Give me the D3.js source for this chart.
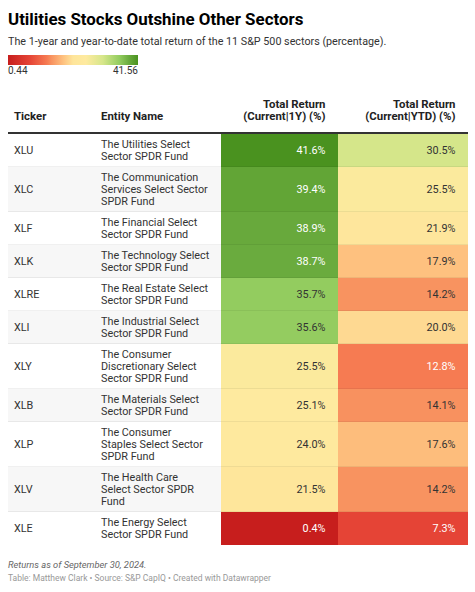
<!DOCTYPE html>
<html><head><meta charset="utf-8">
<script src="https://cdn.jsdelivr.net/npm/d3@7"></script>
<style>body{margin:0;background:#fff;font-family:Roboto,sans-serif}</style>
</head><body>
<svg id="c" width="475" height="592"></svg>
<script>
const title = "Utilities Stocks Outshine Other Sectors";
const subtitle = "The 1-year and year-to-date total return of the 11 S&P 500 sectors (percentage).";
const headers = ["Ticker", "Entity Name", "Total Return\n(Current|1Y) (%)", "Total Return\n(Current|YTD) (%)"];
const tickers = ["XLU","XLC","XLF","XLK","XLRE","XLI","XLY","XLB","XLP","XLV","XLE"];
const names = [
  "The Utilities Select\nSector SPDR Fund",
  "The Communication\nServices Select Sector\nSPDR Fund",
  "The Financial Select\nSector SPDR Fund",
  "The Technology Select\nSector SPDR Fund",
  "The Real Estate Select\nSector SPDR Fund",
  "The Industrial Select\nSector SPDR Fund",
  "The Consumer\nDiscretionary Select\nSector SPDR Fund",
  "The Materials Select\nSector SPDR Fund",
  "The Consumer\nStaples Select Sector\nSPDR Fund",
  "The Health Care\nSelect Sector SPDR\nFund",
  "The Energy Select\nSector SPDR Fund"
];
const ret1Y  = [41.6, 39.4, 38.9, 38.7, 35.7, 35.6, 25.5, 25.1, 24.0, 21.5, 0.4];
const retYTD = [30.5, 25.5, 21.9, 17.9, 14.2, 20.0, 12.8, 14.1, 17.6, 14.2, 7.3];
const legendTicks = [0.44, 41.56];
const notes = "Returns as of September 30, 2024.";
const credits = "Table: Matthew Clark \u2022 Source: S&P CapIQ \u2022 Created with Datawrapper";
const gradientColors = ["#c71e1d","#e54436","#f67b52","#f89360","#fec17f","#fee59b","#feea9f","#d6e68a","#93cc5f","#6aab3e","#4a921f"];
const gradientPos    = [0, 0.167, 0.3, 0.335, 0.425, 0.5, 0.6, 0.73, 0.857, 0.93, 1];

const svg = d3.select("#c");
const L = 8, R = 468;

svg.append("text").attr("x", L).attr("y", 25).text(title)
  .attr("font-size", 16.9).attr("font-weight", 700).attr("fill", "#000");
svg.append("text").attr("x", L).attr("y", 45).text(subtitle)
  .attr("font-size", 10.75).attr("fill", "#333");

// color scale
const posScale = d3.scaleLinear().domain(legendTicks).range([0, 1]);
const color = d3.scaleLinear()
  .domain(gradientPos.map(p => posScale.invert(p)))
  .range(gradientColors).interpolate(d3.interpolateRgb).clamp(true);

// legend
const defs = svg.append("defs");
const grad = defs.append("linearGradient").attr("id", "lg");
gradientPos.forEach((p, i) => grad.append("stop").attr("offset", p).attr("stop-color", gradientColors[i]));
const legX = d3.scaleLinear().domain(legendTicks).range([L, 138]);
svg.append("rect").attr("x", legX(legendTicks[0])).attr("y", 55)
  .attr("width", legX(legendTicks[1]) - legX(legendTicks[0])).attr("height", 10).attr("fill", "url(#lg)");
svg.selectAll(".lt").data(legendTicks).enter().append("text")
  .attr("x", d => legX(d)).attr("y", 74)
  .attr("text-anchor", (d, i) => i === 0 ? "start" : "end")
  .attr("font-size", 10).attr("fill", "#333").text(d => d);

// table geometry
const colX = [L, 95, 221, 338, R];
const lineH = 12, padV = 9, topY = 134;
const rows = tickers.map((t, i) => ({ t, name: names[i].split("\n"), v1: ret1Y[i], v2: retYTD[i] }));
let yy = topY;
rows.forEach(r => { r.n = r.name.length; r.y0 = yy; r.h = r.n * lineH + padV; yy += r.h; });
const capHalf = 3.9;

// header
const hdr = svg.append("g").attr("font-size", 11.4).attr("font-weight", 700).attr("fill", "#222");
headers.forEach((h, i) => {
  const lines = h.split("\n");
  const xx = i < 2 ? colX[i] + 6 : colX[i + 1] - 12.5;
  const t = hdr.append("text").attr("text-anchor", i < 2 ? "start" : "end");
  lines.forEach((ln, k) => t.append("tspan").attr("x", xx)
    .attr("y", 120 - (lines.length - 1 - k) * 12.5).text(ln));
});

// rows
const g = svg.append("g");
const rg = g.selectAll("g.row").data(rows).enter().append("g").attr("class", "row");
rg.append("rect").attr("x", colX[0]).attr("y", d => d.y0).attr("width", colX[2] - colX[0]).attr("height", d => d.h)
  .attr("fill", (d, i) => i % 2 ? "#f7f7f7" : "#fff");
rg.append("rect").attr("x", colX[2]).attr("y", d => d.y0).attr("width", colX[3] - colX[2]).attr("height", d => d.h)
  .attr("fill", d => color(d.v1));
rg.append("rect").attr("x", colX[3]).attr("y", d => d.y0).attr("width", colX[4] - colX[3]).attr("height", d => d.h)
  .attr("fill", d => color(d.v2));
rg.filter((d, i) => i < rows.length - 1).append("line")
  .attr("x1", colX[0]).attr("x2", colX[4])
  .attr("y1", d => d.y0 + d.h - 0.5).attr("y2", d => d.y0 + d.h - 0.5)
  .attr("stroke", "#000").attr("stroke-opacity", 0.06);

const txt = (c) => d3.lab(c).l < 67 ? "#fff" : "#333";
rg.append("text").attr("x", colX[0] + 6).attr("y", d => d.y0 + d.h / 2 + capHalf)
  .attr("font-size", 10.8).attr("fill", "#333").text(d => d.t);
rg.append("text").attr("font-size", 10.8).attr("fill", "#333")
  .each(function(d) {
    const t = d3.select(this);
    d.name.forEach((ln, k) => t.append("tspan").attr("x", colX[1] + 6)
      .attr("y", d.y0 + d.h / 2 + (k - (d.n - 1) / 2) * lineH + capHalf).text(ln));
  });
rg.append("text").attr("x", colX[3] - 12.5).attr("y", d => d.y0 + d.h / 2 + capHalf)
  .attr("text-anchor", "end").attr("font-size", 10.8).attr("fill", d => txt(color(d.v1)))
  .text(d => d.v1.toFixed(1) + "%");
rg.append("text").attr("x", colX[4] - 12.5).attr("y", d => d.y0 + d.h / 2 + capHalf)
  .attr("text-anchor", "end").attr("font-size", 10.8).attr("fill", d => txt(color(d.v2)))
  .text(d => d.v2.toFixed(1) + "%");

svg.append("line").attr("x1", L).attr("x2", R).attr("y1", 133).attr("y2", 133)
  .attr("stroke", "#333").attr("stroke-width", 2);

svg.append("text").attr("x", L).attr("y", 568).attr("font-size", 9.3).attr("font-style", "italic")
  .attr("fill", "#666").text(notes);
svg.append("text").attr("x", L).attr("y", 581).attr("font-size", 8.5)
  .attr("fill", "#999").text(credits);
</script>
</body></html>
